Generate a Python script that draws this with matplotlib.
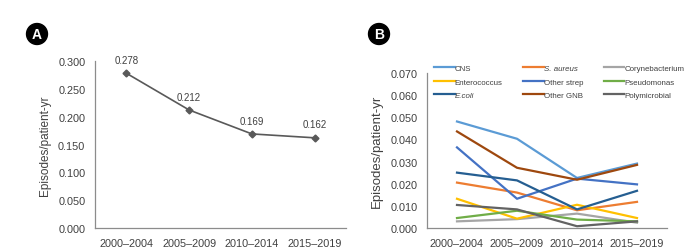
import numpy as np
import matplotlib
matplotlib.use("Agg")
import matplotlib.pyplot as plt

plt.rcParams['font.family'] = ['Liberation Sans', 'DejaVu Sans']

periods = ['2000\u20132004', '2005\u20132009', '2010\u20132014', '2015\u20132019']
overall = [0.278, 0.212, 0.169, 0.162]

organisms = ['CNS', 'S. aureus', 'Corynebacterium',
             'Enterococcus', 'Other strep', 'Pseudomonas',
             'E.coli', 'Other GNB', 'Polymicrobial']
rates = {
    'CNS':             [0.0481, 0.0403, 0.0226, 0.0291],
    'S. aureus':       [0.0205, 0.0160, 0.0080, 0.0118],
    'Corynebacterium': [0.0030, 0.0040, 0.0065, 0.0024],
    'Enterococcus':    [0.0132, 0.0042, 0.0105, 0.0045],
    'Other strep':     [0.0364, 0.0132, 0.0223, 0.0197],
    'Pseudomonas':     [0.0045, 0.0078, 0.0038, 0.0030],
    'E.coli':          [0.0250, 0.0215, 0.0084, 0.0168],
    'Other GNB':       [0.0436, 0.0272, 0.0218, 0.0285],
    'Polymicrobial':   [0.0104, 0.0084, 0.0008, 0.0030],
}
colors = {
    'CNS': '#5B9BD5', 'S. aureus': '#ED7D31', 'Corynebacterium': '#A5A5A5',
    'Enterococcus': '#FFC000', 'Other strep': '#4472C4', 'Pseudomonas': '#70AD47',
    'E.coli': '#255E91', 'Other GNB': '#9E480E', 'Polymicrobial': '#636363',
}
italic = ['S. aureus', 'E.coli']

W, H = 694, 253
fig = plt.figure(figsize=(W / 100, H / 100), dpi=100)

tick_col = '#404040'
spine_col = '#8c8c8c'


def style(ax):
    for s in ['top', 'right']:
        ax.spines[s].set_visible(False)
    for s in ['left', 'bottom']:
        ax.spines[s].set_color(spine_col)
        ax.spines[s].set_linewidth(0.9)
    ax.tick_params(length=0, labelsize=7.8, colors=tick_col, pad=7)
    ax.set_xlim(-0.5, 3.5)


# panel A
axA = fig.add_axes([95 / W, 1 - 229 / H, 251 / W, 167 / H])
x = np.arange(len(periods))
axA.plot(x, overall, color='#595959', lw=1.2, marker='D', ms=3.5)
for xi, v in zip(x, overall):
    axA.annotate(f'{v:.3f}', (xi, v), xytext=(0, 6), textcoords='offset points',
                 ha='center', va='bottom', fontsize=7, color=tick_col)
axA.set_ylim(0, 0.3)
axA.set_yticks(np.arange(0, 0.301, 0.05))
axA.set_yticklabels([f'{t:.3f}' for t in np.arange(0, 0.301, 0.05)])
axA.set_xticks(x)
axA.set_xticklabels(periods)
style(axA)
axA.set_ylabel('Episodes/patient-yr', fontsize=8.5, color=tick_col, labelpad=5)

# panel B
axB = fig.add_axes([427 / W, 1 - 229 / H, 240 / W, 155 / H])
handles = {}
for name in organisms:
    h, = axB.plot(x, rates[name], color=colors[name], lw=1.6, label=name)
    handles[name] = h
axB.set_ylim(0, 0.07)
yt = np.arange(0, 0.0701, 0.01)
axB.set_yticks(yt)
axB.set_yticklabels([f'{t:.3f}' for t in yt])
axB.set_xticks(x)
axB.set_xticklabels(periods)
style(axB)
axB.set_ylabel('Episodes/patient-yr', fontsize=9.5, color=tick_col, labelpad=5)

# legend filled column by column, so reorder
order = [organisms[r * 3 + c] for c in range(3) for r in range(3)]
leg = axB.legend([handles[n] for n in order], order, ncol=3, frameon=False,
                 fontsize=5.7, handlelength=2.6, handletextpad=0.0,
                 columnspacing=2.6, labelspacing=0.75,
                 loc='upper left', bbox_to_anchor=(0.0, 1.1))
for t in leg.get_texts():
    t.set_color(tick_col)
    if t.get_text() in italic:
        t.set_style('italic')

# panel letters
for lab, cx in [('A', 37), ('B', 379)]:
    fig.text(cx / W, 1 - 35 / H, lab, ha='center', va='center', color='white',
             fontsize=10, fontweight='bold',
             bbox=dict(boxstyle='circle,pad=0.25', fc='black', ec='black'))

fig.savefig('out.png', dpi=100)
